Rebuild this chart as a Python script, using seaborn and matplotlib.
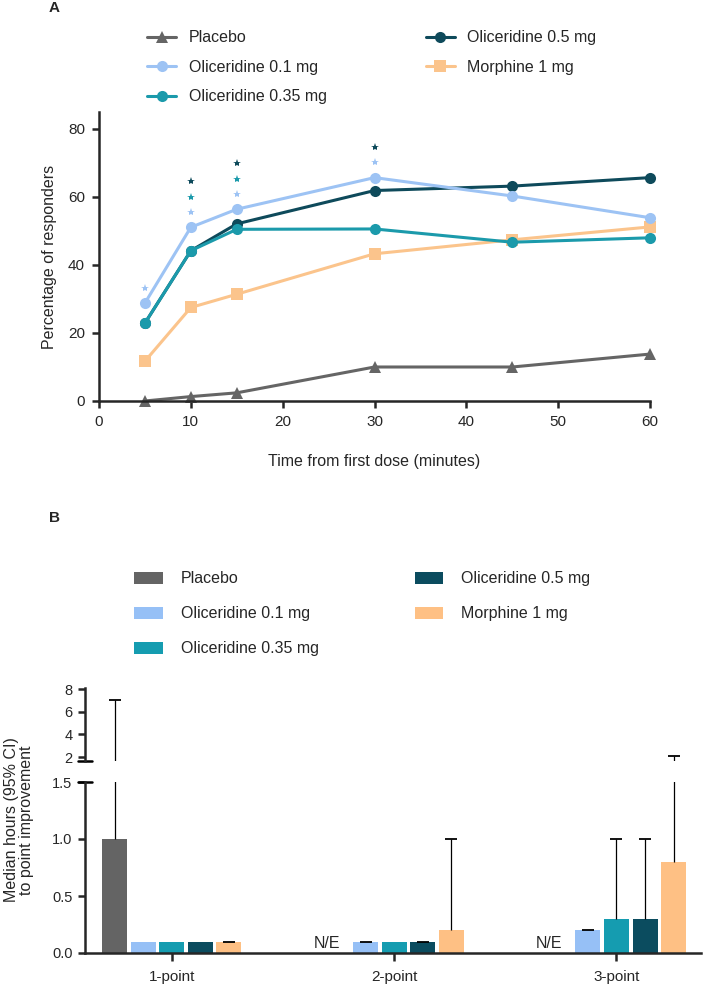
import numpy as np
import pandas as pd
import seaborn as sns
import matplotlib.pyplot as plt
from matplotlib.container import BarContainer

# Datos del panel A (porcentaje de respondedores)
grupos = ['Placebo', 'Oliceridine 0.1 mg', 'Oliceridine 0.35 mg', 'Oliceridine 0.5 mg', 'Morphine 1 mg']
colores_linea = ['#656565', '#9dc3f4', '#1b9aab', '#0e4a5b', '#fbc48c']
colores_barra = ['#646464', '#96c0f6', '#159cb0', '#0b4c5f', '#fec084']
marcadores = ['^', 'o', 'o', 'o', 's']

tiempos = [5, 10, 15, 30, 45, 60]
resp_placebo = [0.0, 1.3, 2.4, 10.0, 10.0, 13.8]
resp_oli01 = [28.8, 51.1, 56.4, 65.7, 60.3, 53.9]
resp_oli035 = [22.9, 44.2, 50.5, 50.6, 46.7, 48.0]
resp_oli05 = [22.9, 44.2, 52.1, 61.9, 63.2, 65.7]
resp_morfina = [11.7, 27.5, 31.4, 43.3, 47.4, 51.2]

# asteriscos (tiempo -> grupos significativos, de abajo hacia arriba)
significancia = {
    5: ['Oliceridine 0.1 mg'],
    10: ['Oliceridine 0.1 mg', 'Oliceridine 0.35 mg', 'Oliceridine 0.5 mg'],
    15: ['Oliceridine 0.1 mg', 'Oliceridine 0.35 mg', 'Oliceridine 0.5 mg'],
    30: ['Oliceridine 0.1 mg', 'Oliceridine 0.5 mg'],
}

# Datos del panel B (mediana de horas e IC 95% superior)
umbrales = ['1-point', '2-point', '3-point']
med_placebo = [1.0, np.nan, np.nan]
med_oli01 = [0.1, 0.1, 0.2]
med_oli035 = [0.1, 0.1, 0.3]
med_oli05 = [0.1, 0.1, 0.3]
med_morfina = [0.1, 0.2, 0.8]
ic_placebo = [7.0, np.nan, np.nan]
ic_oli01 = [np.nan, 0.1, 0.2]
ic_oli035 = [np.nan, np.nan, 1.0]
ic_oli05 = [np.nan, 0.1, 1.0]
ic_morfina = [0.1, 1.0, 2.1]

respuestas = [resp_placebo, resp_oli01, resp_oli035, resp_oli05, resp_morfina]
medianas = [med_placebo, med_oli01, med_oli035, med_oli05, med_morfina]
ic_sup = [ic_placebo, ic_oli01, ic_oli035, ic_oli05, ic_morfina]

df_linea = pd.DataFrame({
    'tiempo': tiempos * len(grupos),
    'pct': sum(respuestas, []),
    'grupo': np.repeat(grupos, len(tiempos)),
})
df_barra = pd.DataFrame({
    'umbral': umbrales * len(grupos),
    'mediana': sum(medianas, []),
    'grupo': np.repeat(grupos, len(umbrales)),
})
df_barra['altura'] = df_barra['mediana'].fillna(0)

sns.set_style('ticks')
plt.rcParams['font.family'] = ['Liberation Sans', 'DejaVu Sans']
plt.rcParams['axes.linewidth'] = 1.8

W, H = 704, 986
def caja(x0, y0, x1, y1):
    return [x0 / W, 1 - y1 / H, (x1 - x0) / W, (y1 - y0) / H]

fig = plt.figure(figsize=(W / 100, H / 100), dpi=100)
ax_a = fig.add_axes(caja(99, 112, 650, 401))
ax_hi = fig.add_axes(caja(85, 688, 701, 761))
ax_lo = fig.add_axes(caja(85, 782, 701, 953))

# ---- Panel A ----
sns.lineplot(data=df_linea, x='tiempo', y='pct', hue='grupo', style='grupo',
             hue_order=grupos, style_order=grupos, palette=colores_linea,
             markers=marcadores, dashes=False, linewidth=2.2, markersize=8,
             markeredgewidth=0, ax=ax_a)
orden_z = {'Placebo': 2, 'Morphine 1 mg': 3, 'Oliceridine 0.5 mg': 4,
           'Oliceridine 0.35 mg': 5, 'Oliceridine 0.1 mg': 6}
for linea, g in zip(ax_a.lines, grupos):
    linea.set_zorder(orden_z[g])
    linea.set_clip_on(False)

for t, grps in significancia.items():
    i = tiempos.index(t)
    base = max(r[i] for r in respuestas) + 4.5
    for k, g in enumerate(grps):
        ax_a.plot(t, base + 4.5 * k, marker='*', ms=6, mew=0,
                  color=colores_linea[grupos.index(g)], zorder=10, clip_on=False)

ax_a.set_xlim(0, 60)
ax_a.set_ylim(0, 85)
ax_a.set_xticks([0, 10, 20, 30, 40, 50, 60])
ax_a.set_yticks([0, 20, 40, 60, 80])
ax_a.set_xlabel('Time from first dose (minutes)', fontsize=11.5, labelpad=18)
ax_a.set_ylabel('Percentage of responders', fontsize=11.5, labelpad=8)
ax_a.tick_params(labelsize=11, length=5, width=1.8, pad=5)
sns.despine(ax=ax_a)
sns.move_legend(ax_a, 'upper left', bbox_to_anchor=(133 / W, 1 - 16 / H),
                bbox_transform=fig.transFigure, ncol=2, frameon=False, title=None,
                fontsize=11.5, handlelength=1.8, handletextpad=0.8,
                columnspacing=6.2, labelspacing=0.9)

# ---- Panel B (eje partido) ----
for ax in (ax_hi, ax_lo):
    sns.barplot(data=df_barra, x='umbral', y='altura', hue='grupo', hue_order=grupos,
                palette=colores_barra, saturation=1, errorbar=None, width=0.643,
                gap=0.125, linewidth=0, legend=(ax is ax_lo), ax=ax)
    barras = [c for c in ax.containers if isinstance(c, BarContainer)]
    for gi, cont in enumerate(barras):
        for bar in cont:
            x = bar.get_x() + bar.get_width() / 2
            ci = int(round(x))
            med, sup = medianas[gi][ci], ic_sup[gi][ci]
            if not np.isnan(med) and not np.isnan(sup):
                eb = ax.errorbar(x, med, yerr=[[0], [sup - med]], fmt='none', ecolor='black',
                                 elinewidth=0.9, capsize=4.3, capthick=1.3, zorder=5)
                eb[1][0].set_visible(False)  # solo el tope superior
            if ax is ax_lo and np.isnan(med):
                ax.text(x - 0.045, 0.04, 'N/E', ha='center', va='baseline', fontsize=11.5)
    ax.set_xlim(-0.39, 2.38)
    ax.set_xlabel('')
    ax.set_ylabel('')
    ax.tick_params(labelsize=10.5, length=5, width=1.8, pad=4)

ax_hi.set_ylim(1.65, 8.1)
ax_hi.set_yticks([2, 4, 6, 8])
ax_hi.tick_params(axis='x', bottom=False, labelbottom=False)
sns.despine(ax=ax_hi, bottom=True)
ax_hi.plot([-0.012, 0.012], [0, 0], transform=ax_hi.transAxes, color='black',
           lw=1.8, clip_on=False)

ax_lo.set_ylim(0, 1.5)
ax_lo.set_yticks([0, 0.5, 1.0, 1.5])
ax_lo.set_yticklabels(['0.0', '0.5', '1.0', '1.5'])
ax_lo.tick_params(axis='x', length=6, pad=6, labelsize=11)
sns.despine(ax=ax_lo)
ax_lo.plot([-0.012, 0.012], [1, 1], transform=ax_lo.transAxes, color='black',
           lw=1.8, clip_on=False)
sns.move_legend(ax_lo, 'upper left', bbox_to_anchor=(120 / W, 1 - 557 / H),
                bbox_transform=fig.transFigure, ncol=2, frameon=False, title=None,
                fontsize=11.5, handlelength=1.8, handleheight=0.8, handletextpad=1.1,
                columnspacing=6.0, labelspacing=1.25)

fig.text(19 / W, 1 - 820 / H, 'Median hours (95% CI)\nto point improvement',
         rotation=90, ha='center', va='center', fontsize=11.5, linespacing=1.05)
fig.text(49 / W, 1 - 8 / H, 'A', weight='bold', fontsize=11, va='center')
fig.text(49 / W, 1 - 518 / H, 'B', weight='bold', fontsize=11, va='center')

fig.savefig('out.png', dpi=100)
